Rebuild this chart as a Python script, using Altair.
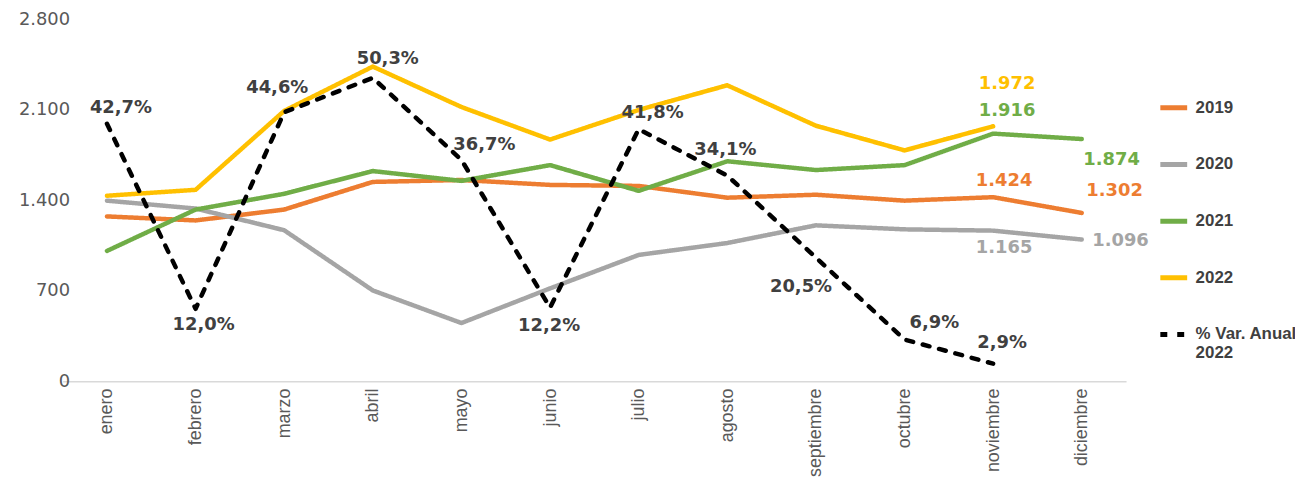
import altair as alt
import pandas as pd

meses = ["enero", "febrero", "marzo", "abril", "mayo", "junio", "julio",
         "agosto", "septiembre", "octubre", "noviembre", "diciembre"]
v2019 = [1275, 1244, 1328, 1542, 1557, 1519, 1511, 1420, 1443, 1397, 1424, 1302]
v2020 = [1397, 1336, 1168, 702, 450, 718, 977, 1069, 1206, 1175, 1165, 1096]
v2021 = [1008, 1328, 1450, 1626, 1550, 1672, 1473, 1702, 1634, 1672, 1916, 1874]
v2022 = [1435, 1481, 2092, 2435, 2122, 1870, 2099, 2290, 1977, 1786, 1972, None]
pct2022 = [42.7, 12.0, 44.6, 50.3, 36.7, 12.2, 41.8, 34.1, 20.5, 6.9, 2.9, None]

series = ["2019", "2020", "2021", "2022"]
serie_pct = "% Var. Anual 2022"
colores = ["#ED7D31", "#A5A5A5", "#70AD47", "#FFC000", "#000000"]
colores_etiqueta = {"2019": "#ED7D31", "2020": "#A5A5A5", "2021": "#70AD47", "2022": "#FFC000"}

# labelled points: (series, month, dx, dy)
num_labels = [("2022", "noviembre", 14, -43), ("2021", "noviembre", 14, -23),
              ("2021", "diciembre", 30, 21), ("2019", "noviembre", 11, -16),
              ("2019", "diciembre", 33, -22), ("2020", "noviembre", 11, 18),
              ("2020", "diciembre", 39, 1)]
pct_offsets = [(14, -16), (8, 16), (-7, -24), (15, -19), (23, -15), (-1, 19),
               (14, -16), (-2, -26), (-15, 30), (30, -17), (9, -21)]

rows = []
for name, vals in zip(series, [v2019, v2020, v2021, v2022]):
    for m, v in zip(meses, vals):
        if v is not None:
            rows.append({"mes": m, "valor": v, "serie": name,
                         "texto": f"{v:,}".replace(",", ".")})
df = pd.DataFrame(rows)
dfp = pd.DataFrame([{"mes": m, "pct": p, "serie": serie_pct,
                     "texto": f"{p:.1f}".replace(".", ",") + "%"}
                    for m, p in zip(meses, pct2022) if p is not None])

dominio = series + [serie_pct]
legend = alt.Legend(
    title=None, orient="none", legendX=1102, legendY=73,
    symbolType="stroke", symbolSize=729, symbolStrokeWidth=5,
    rowPadding=31, labelOffset=6,
    labelFont="Liberation Sans", labelFontSize=17, labelFontWeight="bold",
    labelColor="#404040", labelLimit=200,
    labelExpr="datum.label == '% Var. Anual 2022' ? ['% Var. Anual', '2022'] : datum.label",
)
color = alt.Color("serie:N", scale=alt.Scale(domain=dominio, range=colores), legend=legend)
dash = alt.StrokeDash("serie:N", scale=alt.Scale(domain=dominio, range=[[1, 0]] * 4 + [[7, 10]]),
                      legend=legend)

x_axis = alt.Axis(title=None, labelAngle=-90, labelFont="Liberation Sans", labelFontSize=18,
                  labelColor="#595959", labelPadding=7, ticks=False, domain=True,
                  domainColor="#D9D9D9", domainWidth=1.5, grid=False)
x = alt.X("mes:N", sort=meses, scale=alt.Scale(domain=meses), axis=x_axis)

y_axis = alt.Axis(title=None, values=[0, 700, 1400, 2100, 2800],
                  labelExpr="replace(format(datum.value, ','), ',', '.')",
                  labelFont="DejaVu Sans", labelFontSize=18, labelColor="#595959",
                  domain=False, ticks=False, grid=False, labelPadding=-7)
y = alt.Y("valor:Q", scale=alt.Scale(domain=[0, 2800]), axis=y_axis)

lineas = alt.Chart(df).mark_line(strokeWidth=4.5, strokeCap="round", strokeJoin="round").encode(
    x=x, y=y, color=color, strokeDash=dash, detail="serie:N")

capas_num = []
for s, m, dx, dy in num_labels:
    capas_num.append(
        alt.Chart(df).transform_filter(
            (alt.datum.serie == s) & (alt.datum.mes == m)
        ).mark_text(dx=dx, dy=dy, font="DejaVu Sans", fontSize=18, fontWeight="bold",
                    color=colores_etiqueta[s]).encode(
            x=alt.X("mes:N", sort=meses), y=alt.Y("valor:Q", title=None), text="texto:N")
    )

y_pct = alt.Y("pct:Q", scale=alt.Scale(domain=[0, 60]), axis=None)
linea_pct = alt.Chart(dfp).mark_line(strokeWidth=4.5, strokeCap="round", strokeJoin="round").encode(
    x=alt.X("mes:N", sort=meses), y=y_pct, color=color, strokeDash=dash)

capas_pct = []
for m, (dx, dy) in zip(dfp["mes"], pct_offsets):
    capas_pct.append(
        alt.Chart(dfp).transform_filter(alt.datum.mes == m).mark_text(
            dx=dx, dy=dy, font="DejaVu Sans", fontSize=18, fontWeight="bold", color="#404040"
        ).encode(x=alt.X("mes:N", sort=meses), y=alt.Y("pct:Q", axis=None), text="texto:N")
    )

izq = alt.layer(lineas, *capas_num)
der = alt.layer(linea_pct, *capas_pct)

chart = alt.layer(izq, der).resolve_scale(y="independent").properties(
    width=1070, height=364,
    autosize=alt.AutoSizeParams(type="none"),
    padding={"left": 55, "top": 10, "right": 170, "bottom": 100},
    background="white",
).configure_view(stroke=None)

chart.save("out.html", embed_options={"renderer": "svg", "actions": False})
